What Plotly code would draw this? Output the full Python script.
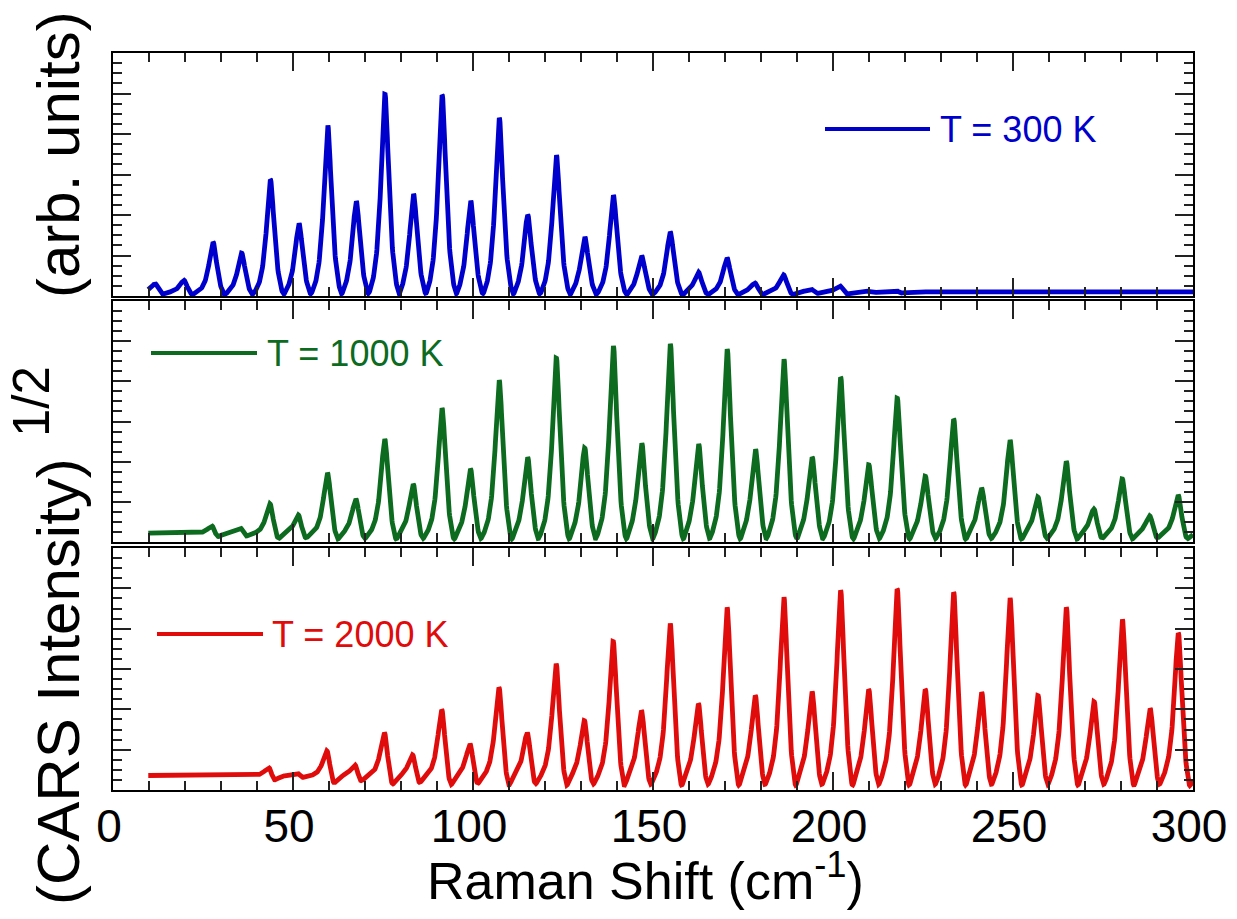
import numpy as np
import plotly.graph_objects as go

# ---------------- data ----------------
# Rotational Raman line positions (cm^-1), J = 0 .. 36
line_positions = [11.94, 19.89, 27.85, 35.80, 43.76, 51.71, 59.67, 67.61, 75.56, 83.51,
                  91.45, 99.39, 107.32, 115.25, 123.18, 131.10, 139.02, 146.93, 154.84, 162.74,
                  170.64, 178.53, 186.41, 194.29, 202.17, 210.03, 217.89, 225.74, 233.58, 241.41,
                  249.24, 257.06, 264.86, 272.66, 280.45, 288.23, 296.00]

# visible peak heights (arb. units, 0 = no visible line)
peaks_300K = [0.30, 0.39, 1.33, 1.06, 2.87, 1.79, 4.21, 2.34, 4.98, 2.52,
              4.96, 2.35, 4.40, 2.00, 3.48, 1.46, 2.49, 0.99, 1.58, 0.59,
              0.94, 0.32, 0.52, 0.17, 0.25, 0.12, 0.14, 0, 0, 0,
              0, 0, 0, 0, 0, 0, 0]
peaks_1000K = [0, 0, 0.40, 0.35, 0.95, 0.67, 1.72, 1.07, 2.56, 1.44,
               3.33, 1.82, 4.03, 2.11, 4.58, 2.34, 4.88, 2.46, 4.93, 2.44,
               4.80, 2.31, 4.55, 2.11, 4.10, 1.92, 3.58, 1.64, 3.06, 1.34,
               2.54, 1.12, 2.01, 0.82, 1.57, 0.65, 1.17]
peaks_2000K = [0, 0, 0, 0, 0.55, 0.42, 0.97, 0.62, 1.42, 0.87,
               1.99, 1.14, 2.54, 1.42, 3.13, 1.72, 3.68, 1.97, 4.13, 2.14,
               4.53, 2.34, 4.78, 2.44, 4.95, 2.49, 4.98, 2.49, 4.90, 2.42,
               4.76, 2.34, 4.53, 2.19, 4.23, 2.02, 3.89]

# non-resonant background level of each spectrum
background = {"300K": 0.10, "1000K": 0.22, "2000K": 0.36}
labels = {"300K": "T = 300 K", "1000K": "T = 1000 K", "2000K": "T = 2000 K"}
colors = {"300K": "#0000CC", "1000K": "#0C6B1F", "2000K": "#E00B0B"}

x_start, x_end = 9.8, 300.0


def cars_spectrum(x, pos, heights, nr, gamma=1.0, sigma=2.8):
    """sqrt(CARS) line shape |chi_NR + sum chi_res| with peak maxima matched to heights."""
    pos = np.asarray(pos, float)
    h = np.asarray(heights, float)
    active = h > nr * 1.02
    amp = np.where(active, np.sqrt(np.clip(h ** 2 - nr ** 2, 0, None)), 0.0)
    d = pos[:, None] - x[None, :]
    kern = gamma / (d - 1j * gamma) * np.exp(-(d / sigma) ** 2)
    y = None
    for _ in range(60):
        chi = nr + (amp[:, None] * kern).sum(axis=0)
        y = np.abs(chi)
        for j in np.where(active)[0]:
            win = np.abs(x - pos[j]) < 1.5
            m = y[win].max()
            if m > 0:
                amp[j] *= h[j] / m
    return y


x = np.arange(x_start, x_end + 1e-9, 0.1)
series = [("300K", peaks_300K), ("1000K", peaks_1000K), ("2000K", peaks_2000K)]

fig = go.Figure()

W, H = 1237, 919
left, right = 113, 1193
PW = right - left
panels_px = [(53, 296), (301, 542), (548, 790)]  # top/bottom pixel of each panel
font_family = "Arial, Liberation Sans, sans-serif"
tick_col = "#222222"

for i, (key, pk) in enumerate(series):
    y = cars_spectrum(x, line_positions, pk, background[key])
    xa = "x" if i == 0 else f"x{i + 1}"
    ya = "y" if i == 0 else f"y{i + 1}"
    fig.add_trace(go.Scatter(x=x, y=y, mode="lines", xaxis=xa, yaxis=ya,
                             line=dict(color=colors[key], width=4.8),
                             showlegend=False, hoverinfo="skip"))

    top, bot = panels_px[i]
    dom = [1 - bot / H, 1 - top / H]
    xkey = "xaxis" if i == 0 else f"xaxis{i + 1}"
    ykey = "yaxis" if i == 0 else f"yaxis{i + 1}"
    fig.layout[xkey] = dict(
        domain=[0, 1], range=[0, 300], anchor=ya,
        showline=True, linecolor="black", linewidth=2, mirror="ticks",
        ticks="inside", ticklen=18, tickwidth=1.5, tickcolor=tick_col,
        tick0=0, dtick=50,
        minor=dict(ticks="inside", dtick=10, ticklen=9, tickwidth=1.5, tickcolor=tick_col),
        showgrid=False, zeroline=False,
        showticklabels=(i == 2),
        tickfont=dict(family=font_family, size=46, color="black"),
        ticklabelshift=-4, ticklabelstandoff=-5,
    )
    fig.layout[ykey] = dict(
        domain=dom, range=[0, 6.0], anchor=xa,
        showline=True, linecolor="black", linewidth=2, mirror="ticks",
        ticks="inside", ticklen=18, tickwidth=1.5, tickcolor=tick_col,
        tick0=0, dtick=1,
        minor=dict(ticks="inside", dtick=0.25, ticklen=9, tickwidth=1.5, tickcolor=tick_col),
        showgrid=False, zeroline=False, showticklabels=False,
    )

# legend-like labels inside each panel (line sample + text)
legend_spec = [  # (line x0 px, line x1 px, text x px, y px)
    (825, 930, 938, 129),
    (151, 257, 265, 353),
    (157, 263, 270, 634),
]
for i, (key, _) in enumerate(series):
    lx0, lx1, tx, ly = legend_spec[i]
    top, bot = panels_px[i]
    xr = "x domain" if i == 0 else f"x{i + 1} domain"
    yr = "y domain" if i == 0 else f"y{i + 1} domain"
    yd = (bot - ly) / (bot - top)
    fig.add_shape(type="line", xref=xr, yref=yr,
                  x0=(lx0 - left) / PW, x1=(lx1 - left) / PW,
                  y0=yd, y1=yd, line=dict(color=colors[key], width=4))
    fig.add_annotation(xref=xr, yref=yr, x=(tx - left) / PW, y=yd,
                       xanchor="left", yanchor="middle", showarrow=False,
                       text=labels[key],
                       font=dict(family=font_family, size=36, color=colors[key]))

# x-axis title (paper x spans the plotting area only)
fig.add_annotation(xref="paper", yref="paper", x=(645 - left) / PW, y=1 - 877 / H,
                   xanchor="center", yanchor="middle", showarrow=False,
                   text="Raman Shift (cm<sup>-1</sup>)",
                   font=dict(family=font_family, size=52, color="black"))

# y-axis title, drawn in three rotated pieces so the raised exponent sits like the original
ytitle_parts = [  # (text, x px of box centre, y px of box centre, font size)
    ("(CARS Intensity)", 58, 682, 60),
    ("1/2", 31, 402, 51),
    ("(arb. units)", 58, 155, 60),
]
for txt, cx, cy, fs in ytitle_parts:
    fig.add_annotation(xref="paper", yref="paper", x=(cx - left) / PW, y=1 - cy / H,
                       xanchor="center", yanchor="middle", showarrow=False, textangle=-90,
                       text=txt, font=dict(family=font_family, size=fs, color="black"))

fig.update_layout(
    width=W, height=H,
    margin=dict(l=left, r=W - right, t=0, b=0),
    paper_bgcolor="white", plot_bgcolor="white",
    showlegend=False,
)

fig.write_html("out.html")
